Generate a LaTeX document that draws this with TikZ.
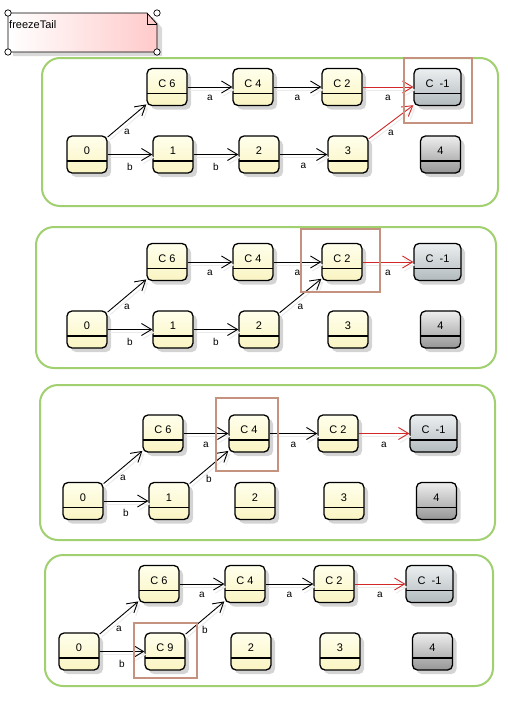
\documentclass[tikz,border=0pt]{standalone}
\usepackage{fontspec}
\setmainfont{Liberation Sans}
\usetikzlibrary{arrows.meta,shadows}

\definecolor{stateTop}{RGB}{255,255,236}
\definecolor{stateBot}{RGB}{250,244,194}
\definecolor{sinkTop}{RGB}{236,239,240}
\definecolor{sinkBot}{RGB}{178,186,190}
\definecolor{deadTop}{RGB}{238,238,238}
\definecolor{deadBot}{RGB}{150,150,150}
\definecolor{frameGreen}{RGB}{160,208,112}
\definecolor{markBrown}{RGB}{196,146,126}
\definecolor{edgeRed}{RGB}{210,40,40}
\definecolor{notePink}{RGB}{255,202,202}

\newcommand{\stateset}[2]{%
  \node[state] (#1c6) at (167,87) {C 6};
  \node[state] (#1c4) at (253,87) {C 4};
  \node[state] (#1c2) at (342,87) {C 2};
  \node[state, sink, minimum width=47pt] (#1cm) at (437.5,87) {C~~-1};
  \node[state] (#1n0) at (87,154.5) {0};
  \node[state] (#1n1) at (173,154.5) {#2};
  \node[state] (#1n2) at (259,154.5) {2};
  \node[state] (#1n3) at (348,154.5) {3};
  \node[state, dead] (#1n4) at (440.5,154.5) {4};
}

\begin{document}
\begin{tikzpicture}[x=1pt, y=-1pt,
  state/.style={draw, line width=1.3pt, rounded corners=5pt, minimum width=40pt, minimum height=37pt,
    inner sep=0pt, text height=8pt, text depth=8pt, font=\fontsize{11}{13}\selectfont,
    top color=stateTop, bottom color=stateBot,
    drop shadow={shadow xshift=4pt, shadow yshift=-4pt, fill=black!17, opacity=1},
    path picture={\draw[line width=1.3pt] ([yshift=-25pt]path picture bounding box.north west)
      -- ([yshift=-25pt]path picture bounding box.north east);}},
  sink/.style={top color=sinkTop, bottom color=sinkBot},
  dead/.style={top color=deadTop, bottom color=deadBot},
  edge/.style={-{Straight Barb[length=10pt,width=12pt]}, line width=0.9pt,
    preaction={draw=black!8, line width=1pt, transform canvas={xshift=2pt, yshift=-3pt}}},
  lbl/.style={below=4.5pt, text=black, font=\fontsize{10}{12}\selectfont},
  frame/.style={draw=frameGreen, line width=2pt, rounded corners=18pt},
  markbox/.style={draw=markBrown, line width=2.4pt}]
  \useasboundingbox (0,0) rectangle (508,704);

  % note
  \fill[black!15] (13,17) -- (153,17) -- (162,28) -- (162,56) -- (13,56) -- cycle;
  \shade[left color=white, right color=notePink, draw=black, line width=0.8pt]
    (8,13) -- (147,13) -- (157,24) -- (157,52) -- (8,52) -- cycle;
  \draw[line width=0.8pt] (147,13) -- (147,24) -- (157,24);
  \foreach \p in {(8,13),(157,13),(8,52),(157,52)}
    \draw[fill=white, line width=0.7pt] \p circle (3.2);
  \node[anchor=base west, inner sep=0pt, font=\fontsize{11}{13}\selectfont] (note) at (9,28) {freezeTail};

  % frames
  \draw[frame] (42,58) rectangle (498,206);
  \draw[frame] (36,227) rectangle (496,368);
  \draw[frame] (40,385) rectangle (495,540);
  \draw[frame] (45,555) rectangle (493,686);

  % step 1
  \stateset{p}{1}
  \draw[edge] (pn0) -- node[lbl]{a} (pc6);
  \draw[edge] (pn0) -- node[lbl]{b} (pn1);
  \draw[edge] (pn1) -- node[lbl]{b} (pn2);
  \draw[edge] (pn2) -- node[lbl]{a} (pn3);
  \draw[edge] (pc6) -- node[lbl]{a} (pc4);
  \draw[edge] (pc4) -- node[lbl]{a} (pc2);
  \draw[edge, edgeRed] (pc2) -- node[lbl]{a} (pcm);
  \draw[edge, edgeRed] (pn3) -- node[lbl]{a} (pcm);
  \draw[markbox] (404,58) rectangle (472,123);

  % step 2
  \begin{scope}[shift={(0,175)}]
    \stateset{q}{1}
    \draw[edge] (qn0) -- node[lbl]{a} (qc6);
    \draw[edge] (qn0) -- node[lbl]{b} (qn1);
    \draw[edge] (qn1) -- node[lbl]{b} (qn2);
    \draw[edge] (qn2) -- node[lbl]{a} (qc2);
    \draw[edge] (qc6) -- node[lbl]{a} (qc4);
    \draw[edge] (qc4) -- node[lbl]{a} (qc2);
    \draw[edge, edgeRed] (qc2) -- node[lbl]{a} (qcm);
  \end{scope}
  \draw[markbox] (301,229) rectangle (380,292);

  % step 3
  \begin{scope}[shift={(-4,346.5)}]
    \stateset{r}{1}
    \draw[edge] (rn0) -- node[lbl]{a} (rc6);
    \draw[edge] (rn0) -- node[lbl]{b} (rn1);
    \draw[edge] (rn1) -- node[lbl]{b} (rc4);
    \draw[edge] (rc6) -- node[lbl]{a} (rc4);
    \draw[edge] (rc4) -- node[lbl]{a} (rc2);
    \draw[edge, edgeRed] (rc2) -- node[lbl]{a} (rcm);
  \end{scope}
  \draw[markbox] (216,398) rectangle (278,471);

  % step 4
  \begin{scope}[shift={(-8,497)}]
    \stateset{s}{C 9}
    \draw[edge] (sn0) -- node[lbl]{a} (sc6);
    \draw[edge] (sn0) -- node[lbl]{b} (sn1);
    \draw[edge] (sn1) -- node[lbl]{b} (sc4);
    \draw[edge] (sc6) -- node[lbl]{a} (sc4);
    \draw[edge] (sc4) -- node[lbl]{a} (sc2);
    \draw[edge, edgeRed] (sc2) -- node[lbl]{a} (scm);
  \end{scope}
  \draw[markbox] (134,623) rectangle (197,678);
\end{tikzpicture}
\end{document}
